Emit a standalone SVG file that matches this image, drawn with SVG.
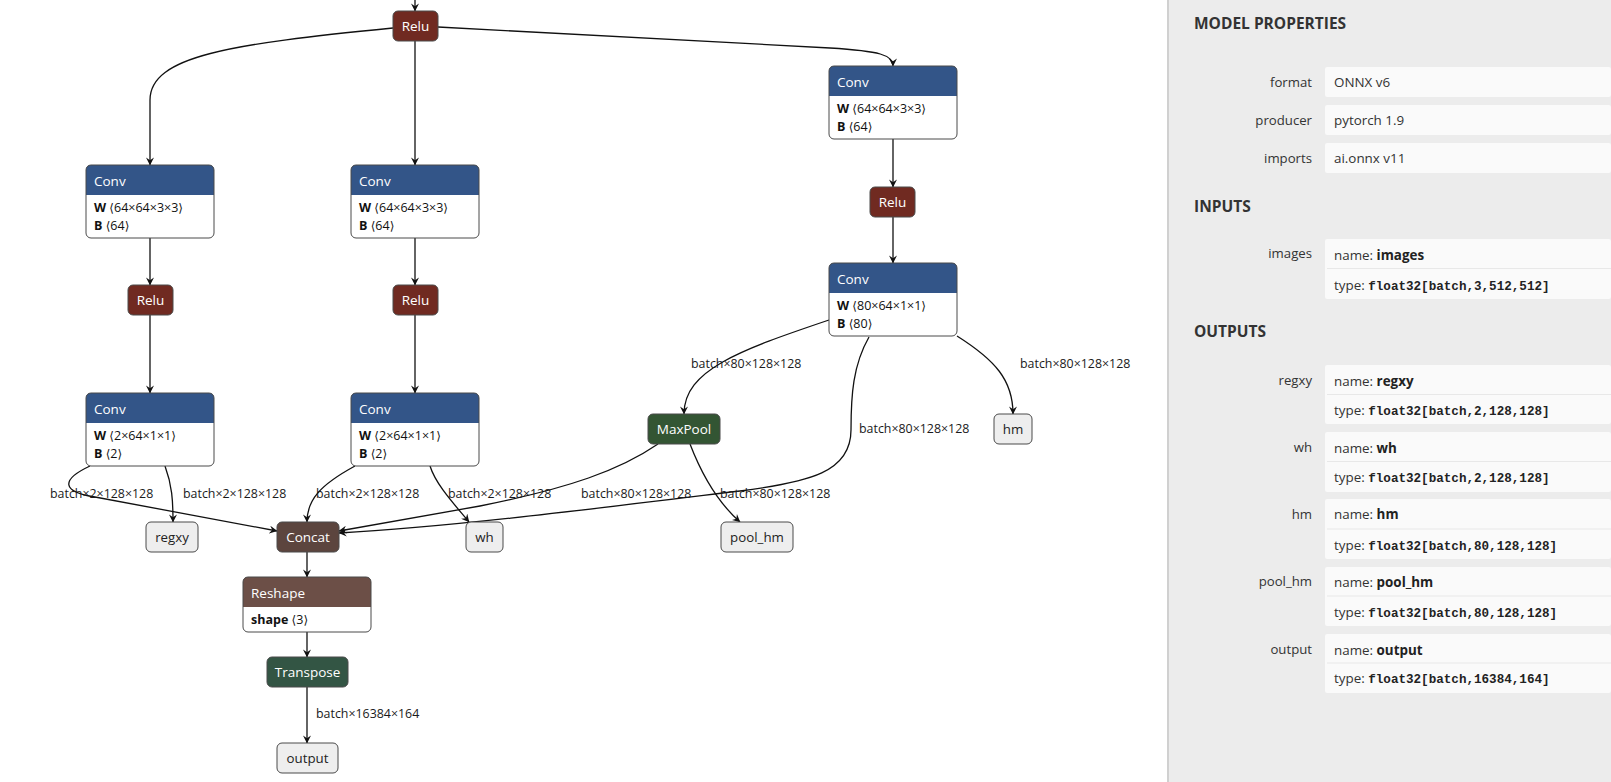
<svg xmlns="http://www.w3.org/2000/svg" width="1611" height="782" viewBox="0 0 1611 782">
  <style>
    .edge { fill: none; stroke: #111; stroke-width: 1.3; marker-end: url(#vee); }
    .box { stroke: #4a4a4a; stroke-width: 1; }
    .frame { fill: none; stroke: #4a4a4a; stroke-width: 1; }
    .title { font-family: "Open Sans", "Noto Sans", sans-serif; font-size: 13.5px; fill: #fff; }
    .otitle { font-family: "Open Sans", "Noto Sans", sans-serif; font-size: 13.3px; fill: #222; }
    .attr { font-family: "Open Sans", "Noto Sans", "DejaVu Sans", sans-serif; font-size: 12.5px; fill: #111; }
    .attr tspan.k { font-weight: bold; }
    .attr tspan.br { font-family: "DejaVu Sans", sans-serif; font-size: 12px; }
    .lbl { font-family: "Open Sans", "Noto Sans", sans-serif; font-size: 12.4px; fill: #1a1a1a; }
    .layer { fill: #335588; }
    .act { fill: #702a21; }
    .tensor { fill: #5c453e; }
    .shape { fill: #6c4f47; }
    .transform { fill: #335544; }
    .pool { fill: #335533; }
    .io { fill: #eeeeee; }
    .body { fill: #ffffff; }
    .ph { font-family: "Open Sans", "Noto Sans", sans-serif; font-size: 15.5px; font-weight: bold; fill: #333; }
    .pk { font-family: "Open Sans", "Noto Sans", sans-serif; font-size: 13.2px; fill: #333; text-anchor: end; }
    .pv { font-family: "Open Sans", "Noto Sans", sans-serif; font-size: 13.4px; fill: #333; }
    .pv tspan.b { font-weight: bold; fill: #222; }
    .pv tspan.m { font-family: "Liberation Mono", "DejaVu Sans Mono", monospace; font-size: 12.6px; font-weight: bold; fill: #222; }
    .cell { fill: #fafafa; }
    .sep { stroke: #e8e8e8; stroke-width: 1; }
  </style>
  <defs>
    <marker id="vee" viewBox="0 0 10 10" refX="9.5" refY="5" markerWidth="8" markerHeight="8" markerUnits="userSpaceOnUse" orient="auto">
      <path d="M0,0 L10,5 L0,10 L3.5,5 z" fill="#111"/>
    </marker>
  </defs>

  <rect x="0" y="0" width="1611" height="782" fill="#ffffff"/>

  <!-- connectors -->
  <g id="edges">
    <path class="edge" d="M415,0 L415,11"/>
    <path class="edge" d="M393,28 C230,44 150,56 150,100 L150,165"/>
    <path class="edge" d="M415,41 L415,165"/>
    <path class="edge" d="M438,27 L830,48 C880,51 893,55 893,66"/>
    <path class="edge" d="M893,139 L893,187"/>
    <path class="edge" d="M893,217 L893,263"/>
    <path class="edge" d="M150,238 L150,285"/>
    <path class="edge" d="M150,315 L150,393"/>
    <path class="edge" d="M415,238 L415,285"/>
    <path class="edge" d="M415,315 L415,393"/>
    <path class="edge" d="M90,466 C60,480 62,492 95,497 L277,531"/>
    <path class="edge" d="M165,466 C172,485 173,500 173,522"/>
    <path class="edge" d="M355,466 C320,485 307,500 307,522"/>
    <path class="edge" d="M430,466 C436,485 455,505 469,522"/>
    <path class="edge" d="M658,444 C620,470 570,488 480,506 L339,531"/>
    <path class="edge" d="M690,444 C700,470 715,500 740,522"/>
    <path class="edge" d="M829,320 C740,350 684,370 684,414"/>
    <path class="edge" d="M869,337 C853,365 851,395 851,430 C851,472 810,482 740,491 C600,508 450,527 339,533"/>
    <path class="edge" d="M957,336 C995,360 1013,380 1013,414"/>
    <path class="edge" d="M307,552 L307,577"/>
    <path class="edge" d="M307,632 L307,657"/>
    <path class="edge" d="M307,687 L307,743"/>
    <text class="lbl" x="50" y="498">batch×2×128×128</text>
    <text class="lbl" x="183" y="498">batch×2×128×128</text>
    <text class="lbl" x="316" y="498">batch×2×128×128</text>
    <text class="lbl" x="448" y="498">batch×2×128×128</text>
    <text class="lbl" x="581" y="498">batch×80×128×128</text>
    <text class="lbl" x="720" y="498">batch×80×128×128</text>
    <text class="lbl" x="691" y="368">batch×80×128×128</text>
    <text class="lbl" x="1020" y="368">batch×80×128×128</text>
    <text class="lbl" x="859" y="433">batch×80×128×128</text>
    <text class="lbl" x="316" y="718">batch×16384×164</text>
  </g>

  <!-- nodes -->
  <g id="relu_0">
    <rect class="box act" x="393" y="11" width="45" height="30" rx="5"/>
    <text class="title" x="415.5" y="31" text-anchor="middle">Relu</text>
  </g>

  <g id="conv_l1">
    <rect class="body" x="86" y="165" width="128" height="73" rx="5"/>
    <path class="layer" d="M86,195 V170 Q86,165 91,165 H209 Q214,165 214,170 V195 Z"/>
    <rect class="frame" x="86" y="165" width="128" height="73" rx="5"/>
    <text class="title" x="94" y="186">Conv</text>
    <text class="attr" x="94" y="212"><tspan class="k">W</tspan> <tspan class="br">⟨</tspan>64×64×3×3<tspan class="br">⟩</tspan></text>
    <text class="attr" x="94" y="230"><tspan class="k">B</tspan> <tspan class="br">⟨</tspan>64<tspan class="br">⟩</tspan></text>
  </g>

  <g id="conv_m1">
    <rect class="body" x="351" y="165" width="128" height="73" rx="5"/>
    <path class="layer" d="M351,195 V170 Q351,165 356,165 H474 Q479,165 479,170 V195 Z"/>
    <rect class="frame" x="351" y="165" width="128" height="73" rx="5"/>
    <text class="title" x="359" y="186">Conv</text>
    <text class="attr" x="359" y="212"><tspan class="k">W</tspan> <tspan class="br">⟨</tspan>64×64×3×3<tspan class="br">⟩</tspan></text>
    <text class="attr" x="359" y="230"><tspan class="k">B</tspan> <tspan class="br">⟨</tspan>64<tspan class="br">⟩</tspan></text>
  </g>

  <g id="conv_r1">
    <rect class="body" x="829" y="66" width="128" height="73" rx="5"/>
    <path class="layer" d="M829,96 V71 Q829,66 834,66 H952 Q957,66 957,71 V96 Z"/>
    <rect class="frame" x="829" y="66" width="128" height="73" rx="5"/>
    <text class="title" x="837" y="87">Conv</text>
    <text class="attr" x="837" y="113"><tspan class="k">W</tspan> <tspan class="br">⟨</tspan>64×64×3×3<tspan class="br">⟩</tspan></text>
    <text class="attr" x="837" y="131"><tspan class="k">B</tspan> <tspan class="br">⟨</tspan>64<tspan class="br">⟩</tspan></text>
  </g>

  <g id="relu_r">
    <rect class="box act" x="870" y="187" width="45" height="30" rx="5"/>
    <text class="title" x="892.5" y="207" text-anchor="middle">Relu</text>
  </g>

  <g id="conv_r2">
    <rect class="body" x="829" y="263" width="128" height="73" rx="5"/>
    <path class="layer" d="M829,293 V268 Q829,263 834,263 H952 Q957,263 957,268 V293 Z"/>
    <rect class="frame" x="829" y="263" width="128" height="73" rx="5"/>
    <text class="title" x="837" y="284">Conv</text>
    <text class="attr" x="837" y="310"><tspan class="k">W</tspan> <tspan class="br">⟨</tspan>80×64×1×1<tspan class="br">⟩</tspan></text>
    <text class="attr" x="837" y="328"><tspan class="k">B</tspan> <tspan class="br">⟨</tspan>80<tspan class="br">⟩</tspan></text>
  </g>

  <g id="relu_l">
    <rect class="box act" x="128" y="285" width="45" height="30" rx="5"/>
    <text class="title" x="150.5" y="305" text-anchor="middle">Relu</text>
  </g>

  <g id="relu_m">
    <rect class="box act" x="393" y="285" width="45" height="30" rx="5"/>
    <text class="title" x="415.5" y="305" text-anchor="middle">Relu</text>
  </g>

  <g id="conv_l2">
    <rect class="body" x="86" y="393" width="128" height="73" rx="5"/>
    <path class="layer" d="M86,423 V398 Q86,393 91,393 H209 Q214,393 214,398 V423 Z"/>
    <rect class="frame" x="86" y="393" width="128" height="73" rx="5"/>
    <text class="title" x="94" y="414">Conv</text>
    <text class="attr" x="94" y="440"><tspan class="k">W</tspan> <tspan class="br">⟨</tspan>2×64×1×1<tspan class="br">⟩</tspan></text>
    <text class="attr" x="94" y="458"><tspan class="k">B</tspan> <tspan class="br">⟨</tspan>2<tspan class="br">⟩</tspan></text>
  </g>

  <g id="conv_m2">
    <rect class="body" x="351" y="393" width="128" height="73" rx="5"/>
    <path class="layer" d="M351,423 V398 Q351,393 356,393 H474 Q479,393 479,398 V423 Z"/>
    <rect class="frame" x="351" y="393" width="128" height="73" rx="5"/>
    <text class="title" x="359" y="414">Conv</text>
    <text class="attr" x="359" y="440"><tspan class="k">W</tspan> <tspan class="br">⟨</tspan>2×64×1×1<tspan class="br">⟩</tspan></text>
    <text class="attr" x="359" y="458"><tspan class="k">B</tspan> <tspan class="br">⟨</tspan>2<tspan class="br">⟩</tspan></text>
  </g>

  <g id="maxpool">
    <rect class="box pool" x="648" y="414" width="72" height="30" rx="5"/>
    <text class="title" x="684" y="434" text-anchor="middle">MaxPool</text>
  </g>

  <g id="out_hm">
    <rect class="box io" x="994" y="414" width="38" height="30" rx="5"/>
    <text class="otitle" x="1013" y="434" text-anchor="middle">hm</text>
  </g>

  <g id="out_regxy">
    <rect class="box io" x="146" y="522" width="52" height="30" rx="5"/>
    <text class="otitle" x="172" y="542" text-anchor="middle">regxy</text>
  </g>

  <g id="concat">
    <rect class="box tensor" x="277" y="522" width="62" height="30" rx="5"/>
    <text class="title" x="308" y="542" text-anchor="middle">Concat</text>
  </g>

  <g id="out_wh">
    <rect class="box io" x="466" y="522" width="37" height="30" rx="5"/>
    <text class="otitle" x="484.5" y="542" text-anchor="middle">wh</text>
  </g>

  <g id="out_pool_hm">
    <rect class="box io" x="721" y="522" width="72" height="30" rx="5"/>
    <text class="otitle" x="757" y="542" text-anchor="middle">pool_hm</text>
  </g>

  <g id="reshape">
    <rect class="body" x="243" y="577" width="128" height="55" rx="5"/>
    <path class="shape" d="M243,607 V582 Q243,577 248,577 H366 Q371,577 371,582 V607 Z"/>
    <rect class="frame" x="243" y="577" width="128" height="55" rx="5"/>
    <text class="title" x="251" y="598">Reshape</text>
    <text class="attr" x="251" y="624"><tspan class="k">shape</tspan> <tspan class="br">⟨</tspan>3<tspan class="br">⟩</tspan></text>
  </g>

  <g id="transpose">
    <rect class="box transform" x="267" y="657" width="81" height="30" rx="5"/>
    <text class="title" x="307.5" y="677" text-anchor="middle">Transpose</text>
  </g>

  <g id="out_output">
    <rect class="box io" x="277" y="743" width="61" height="30" rx="5"/>
    <text class="otitle" x="307.5" y="763" text-anchor="middle">output</text>
  </g>

  <!-- model properties sidebar -->
  <g id="sidebar">
    <rect x="1168" y="0" width="443" height="782" fill="#ececec"/>
    <line x1="1168" y1="0" x2="1168" y2="782" stroke="#d0d0d0" stroke-width="2"/>

    <text class="ph" x="1194" y="29">MODEL PROPERTIES</text>

    <rect class="cell" x="1325" y="67" width="286" height="30" rx="2"/>
    <text class="pk" x="1312" y="87">format</text>
    <text class="pv" x="1334" y="87">ONNX v6</text>

    <rect class="cell" x="1325" y="105" width="286" height="30" rx="2"/>
    <text class="pk" x="1312" y="125">producer</text>
    <text class="pv" x="1334" y="125">pytorch 1.9</text>

    <rect class="cell" x="1325" y="143" width="286" height="30" rx="2"/>
    <text class="pk" x="1312" y="163">imports</text>
    <text class="pv" x="1334" y="163">ai.onnx v11</text>

    <text class="ph" x="1194" y="212">INPUTS</text>

    <rect class="cell" x="1325" y="239" width="286" height="60" rx="2"/>
    <line class="sep" x1="1327" y1="268.5" x2="1611" y2="268.5"/>
    <text class="pk" x="1312" y="258">images</text>
    <text class="pv" x="1334" y="260">name: <tspan class="b">images</tspan></text>
    <text class="pv" x="1334" y="290">type: <tspan class="m">float32[batch,3,512,512]</tspan></text>

    <text class="ph" x="1194" y="337">OUTPUTS</text>

    <rect class="cell" x="1325" y="365" width="286" height="59" rx="2"/>
    <line class="sep" x1="1327" y1="394.5" x2="1611" y2="394.5"/>
    <text class="pk" x="1312" y="385">regxy</text>
    <text class="pv" x="1334" y="386">name: <tspan class="b">regxy</tspan></text>
    <text class="pv" x="1334" y="415">type: <tspan class="m">float32[batch,2,128,128]</tspan></text>

    <rect class="cell" x="1325" y="432" width="286" height="60" rx="2"/>
    <line class="sep" x1="1327" y1="461.5" x2="1611" y2="461.5"/>
    <text class="pk" x="1312" y="452">wh</text>
    <text class="pv" x="1334" y="453">name: <tspan class="b">wh</tspan></text>
    <text class="pv" x="1334" y="482">type: <tspan class="m">float32[batch,2,128,128]</tspan></text>

    <rect class="cell" x="1325" y="499" width="286" height="60" rx="2"/>
    <line class="sep" x1="1327" y1="529" x2="1611" y2="529"/>
    <text class="pk" x="1312" y="519">hm</text>
    <text class="pv" x="1334" y="519">name: <tspan class="b">hm</tspan></text>
    <text class="pv" x="1334" y="550">type: <tspan class="m">float32[batch,80,128,128]</tspan></text>

    <rect class="cell" x="1325" y="567" width="286" height="59" rx="2"/>
    <line class="sep" x1="1327" y1="596" x2="1611" y2="596"/>
    <text class="pk" x="1312" y="586">pool_hm</text>
    <text class="pv" x="1334" y="587">name: <tspan class="b">pool_hm</tspan></text>
    <text class="pv" x="1334" y="617">type: <tspan class="m">float32[batch,80,128,128]</tspan></text>

    <rect class="cell" x="1325" y="634" width="286" height="59" rx="2"/>
    <line class="sep" x1="1327" y1="663" x2="1611" y2="663"/>
    <text class="pk" x="1312" y="654">output</text>
    <text class="pv" x="1334" y="655">name: <tspan class="b">output</tspan></text>
    <text class="pv" x="1334" y="683">type: <tspan class="m">float32[batch,16384,164]</tspan></text>
  </g>
</svg>
